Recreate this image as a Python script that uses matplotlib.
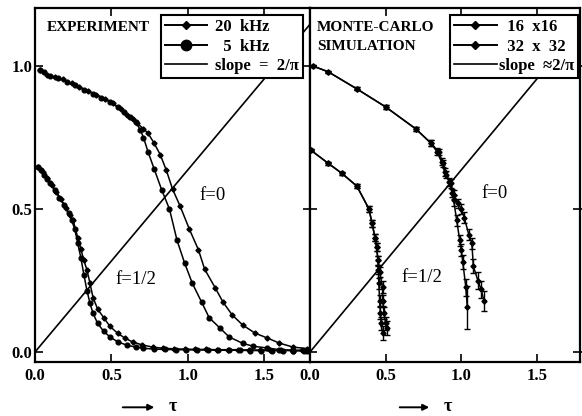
import matplotlib
matplotlib.use('Agg')
import matplotlib.pyplot as plt
from matplotlib.lines import Line2D
from matplotlib.font_manager import FontProperties
import numpy as np

plt.rcParams['font.family'] = ['Liberation Serif', 'DejaVu Serif']

# ---------------- data: experiment ----------------
exp20_f0_tau = [0.03, 0.08, 0.13, 0.18, 0.24, 0.29, 0.35, 0.40, 0.46, 0.51, 0.56, 0.60,
                0.64, 0.67, 0.71, 0.74, 0.78, 0.82, 0.86, 0.90, 0.95, 1.01, 1.07, 1.11,
                1.18, 1.23, 1.29, 1.36, 1.44, 1.52, 1.60, 1.69, 1.78]
exp20_f0_val = [0.985, 0.970, 0.962, 0.955, 0.940, 0.927, 0.912, 0.900, 0.885, 0.870, 0.850, 0.830,
                0.815, 0.800, 0.780, 0.765, 0.730, 0.690, 0.635, 0.570, 0.510, 0.430, 0.357, 0.290,
                0.224, 0.175, 0.130, 0.094, 0.066, 0.049, 0.031, 0.017, 0.012]

exp5_f0_tau = [0.03, 0.06, 0.10, 0.15, 0.21, 0.26, 0.32, 0.38, 0.43, 0.49, 0.54, 0.58,
               0.62, 0.66, 0.69, 0.71, 0.74, 0.78, 0.83, 0.88, 0.93, 0.98, 1.03, 1.09,
               1.14, 1.21, 1.27, 1.36, 1.43, 1.52, 1.60, 1.69, 1.78]
exp5_f0_val = [0.985, 0.978, 0.966, 0.958, 0.945, 0.932, 0.917, 0.903, 0.890, 0.875, 0.857, 0.840,
               0.823, 0.805, 0.776, 0.750, 0.700, 0.640, 0.566, 0.500, 0.390, 0.310, 0.240, 0.175,
               0.120, 0.084, 0.053, 0.030, 0.020, 0.014, 0.008, 0.005, 0.003]

exp5_f12_tau = [0.02, 0.04, 0.06, 0.08, 0.10, 0.13, 0.16, 0.19, 0.22, 0.24, 0.26, 0.28,
                0.30, 0.32, 0.34, 0.36, 0.38, 0.41, 0.45, 0.49, 0.54, 0.60, 0.66, 0.71,
                0.78, 0.85, 0.92, 0.99, 1.06, 1.13, 1.20, 1.27, 1.34, 1.41, 1.48, 1.55,
                1.62, 1.69, 1.76]
exp5_f12_val = [0.647, 0.635, 0.620, 0.605, 0.590, 0.565, 0.540, 0.515, 0.486, 0.460, 0.430, 0.380,
                0.330, 0.270, 0.215, 0.170, 0.135, 0.100, 0.072, 0.053, 0.036, 0.024, 0.017, 0.013,
                0.010, 0.009, 0.008, 0.008, 0.007, 0.007, 0.006, 0.006, 0.006, 0.005, 0.005, 0.005,
                0.005, 0.005, 0.005]

exp20_f12_tau = [0.02, 0.05, 0.08, 0.11, 0.14, 0.17, 0.20, 0.23, 0.25, 0.28, 0.30, 0.32,
                 0.34, 0.36, 0.38, 0.41, 0.45, 0.49, 0.54, 0.59, 0.64, 0.70, 0.77, 0.84,
                 0.91, 0.98, 1.05, 1.12, 1.19, 1.26, 1.33, 1.40, 1.47, 1.54, 1.61, 1.68,
                 1.75]
exp20_f12_val = [0.647, 0.628, 0.610, 0.585, 0.560, 0.535, 0.505, 0.478, 0.460, 0.400, 0.360, 0.320,
                 0.287, 0.240, 0.190, 0.150, 0.120, 0.090, 0.066, 0.048, 0.035, 0.025, 0.017, 0.013,
                 0.011, 0.010, 0.009, 0.009, 0.008, 0.008, 0.008, 0.007, 0.007, 0.007, 0.007, 0.006,
                 0.006]

# ---------------- data: Monte-Carlo ----------------
mc16_f0_tau = [0.02, 0.12, 0.31, 0.50, 0.70, 0.80, 0.85, 0.88, 0.90, 0.93, 0.95, 0.98,
               1.00, 1.02, 1.05, 1.07, 1.08, 1.11, 1.13, 1.15]
mc16_f0_val = [1.00, 0.98, 0.92, 0.857, 0.78, 0.73, 0.70, 0.66, 0.62, 0.59, 0.55, 0.52,
               0.50, 0.47, 0.41, 0.38, 0.30, 0.25, 0.22, 0.18]
mc16_f0_err = [0.004, 0.004, 0.005, 0.006, 0.008, 0.01, 0.01, 0.012, 0.012, 0.015, 0.015, 0.015,
               0.018, 0.018, 0.02, 0.02, 0.025, 0.03, 0.03, 0.035]

mc32_f0_tau = [0.02, 0.12, 0.31, 0.50, 0.70, 0.80, 0.84, 0.87, 0.89, 0.92, 0.94, 0.95,
               0.97, 0.99, 1.00, 1.01, 1.03, 1.04]
mc32_f0_val = [1.00, 0.98, 0.92, 0.857, 0.78, 0.73, 0.70, 0.665, 0.63, 0.594, 0.556, 0.53,
               0.46, 0.39, 0.357, 0.315, 0.227, 0.157]
mc32_f0_err = [0.004, 0.004, 0.005, 0.006, 0.008, 0.01, 0.012, 0.012, 0.015, 0.015, 0.015, 0.018,
               0.018, 0.02, 0.02, 0.025, 0.03, 0.075]

mc16_f12_tau = [0.005, 0.12, 0.21, 0.31, 0.39, 0.41, 0.43, 0.44, 0.45, 0.46, 0.48, 0.48,
                0.49, 0.50, 0.51]
mc16_f12_val = [0.706, 0.66, 0.625, 0.58, 0.50, 0.45, 0.40, 0.367, 0.32, 0.28, 0.227, 0.18,
                0.136, 0.10, 0.084]
mc16_f12_err = [0.004, 0.005, 0.006, 0.008, 0.01, 0.012, 0.012, 0.015, 0.015, 0.018, 0.02, 0.02,
                0.02, 0.022, 0.025]

mc32_f12_tau = [0.005, 0.12, 0.21, 0.31, 0.39, 0.41, 0.43, 0.44, 0.45, 0.452, 0.455, 0.46,
                0.465, 0.47, 0.48]
mc32_f12_val = [0.706, 0.66, 0.625, 0.58, 0.50, 0.45, 0.40, 0.367, 0.32, 0.287, 0.24, 0.18,
                0.136, 0.10, 0.066]
mc32_f12_err = [0.004, 0.005, 0.006, 0.008, 0.01, 0.012, 0.012, 0.015, 0.015, 0.015, 0.018, 0.02,
                0.02, 0.022, 0.025]

slope = 2 / np.pi
slope_tau = np.array([0.0, 1.8])

xticks = [0.0, 0.5, 1.0, 1.5]
xtick_labels = ['0.0', '0.5', '1.0', '1.5']
yticks = [0.0, 0.5, 1.0]
ytick_labels = ['0.0', '0.5', '1.0']

# ---------------- figure ----------------
W, H = 582, 416
fig = plt.figure(figsize=(W / 100, H / 100), dpi=100)
axL = fig.add_axes([35 / W, 1 - 362 / H, 275 / W, 354 / H])
axR = fig.add_axes([310 / W, 1 - 362 / H, 270 / W, 354 / H])

lw = 1.1
tickfont = dict(family='Liberation Serif', weight='bold', size=12)

for ax, xmax in ((axL, 1.8), (axR, 1.785)):
    ax.set_xlim(0, xmax)
    ax.set_ylim(-0.035, 1.203)
    for s in ax.spines.values():
        s.set_linewidth(1.6)
    ax.set_xticks(xticks)
    ax.set_xticklabels(xtick_labels, fontdict=tickfont)
    ax.set_yticks(yticks)
    ax.tick_params(axis='x', direction='in', length=6, width=1.2, top=True, pad=4)
    ax.plot(slope_tau, slope * slope_tau, color='black', lw=1.2, zorder=2)

axL.set_yticklabels(ytick_labels, fontdict=tickfont)
axL.tick_params(axis='y', direction='in', length=6, width=1.2, left=True, right=False, pad=2)
axR.set_yticklabels([])
axR.tick_params(axis='y', direction='inout', length=10, width=1.2, left=True, right=True)

# experiment curves
axL.plot(exp20_f0_tau, exp20_f0_val, color='black', lw=lw, marker='D', ms=2.6, zorder=3)
axL.plot(exp5_f0_tau, exp5_f0_val, color='black', lw=lw, marker='o', ms=3.4, zorder=3)
axL.plot(exp20_f12_tau, exp20_f12_val, color='black', lw=lw, marker='D', ms=2.6, zorder=3)
axL.plot(exp5_f12_tau, exp5_f12_val, color='black', lw=lw, marker='o', ms=3.4, zorder=3)

# Monte-Carlo curves
ekw = dict(color='black', lw=lw, marker='D', ms=2.6, elinewidth=1.0, capsize=2.2, capthick=1.0, zorder=3)
axR.errorbar(mc16_f0_tau, mc16_f0_val, yerr=mc16_f0_err, **ekw)
axR.errorbar(mc32_f0_tau, mc32_f0_val, yerr=mc32_f0_err, **ekw)
axR.errorbar(mc16_f12_tau, mc16_f12_val, yerr=mc16_f12_err, **ekw)
axR.errorbar(mc32_f12_tau, mc32_f12_val, yerr=mc32_f12_err, **ekw)

# texts
txt = dict(family='Liberation Serif', size=13.5, color='black')
axL.text(1.16, 0.549, 'f=0', ha='center', va='center', **txt)
axL.text(0.66, 0.252, 'f=1/2', ha='center', va='center', **txt)
axR.text(1.22, 0.556, 'f=0', ha='center', va='center', **txt)
axR.text(0.74, 0.26, 'f=1/2', ha='center', va='center', **txt)

axL.text(0.044, 0.944, 'EXPERIMENT', transform=axL.transAxes, ha='left', va='center',
         family='Liberation Serif', weight='bold', size=11)
axR.text(0.026, 0.944, 'MONTE-CARLO', transform=axR.transAxes, ha='left', va='center',
         family='Liberation Serif', weight='bold', size=11)
axR.text(0.026, 0.890, 'SIMULATION', transform=axR.transAxes, ha='left', va='center',
         family='Liberation Serif', weight='bold', size=11)

# legends
legfont = FontProperties(family=['Liberation Serif', 'DejaVu Serif'], weight='bold', size=12)
hL = [Line2D([], [], color='black', lw=1.4, marker='D', ms=4.5),
      Line2D([], [], color='black', lw=1.4, marker='o', ms=7.5),
      Line2D([], [], color='black', lw=1.2)]
legL = axL.legend(hL, ['20  kHz', '  5  kHz', 'slope  =  2/\u03c0'], loc='upper right',
                  bbox_to_anchor=(0.975, 0.980), prop=legfont, frameon=True, fancybox=False,
                  handlelength=2.5, handletextpad=0.5, borderpad=0.25, labelspacing=0.2,
                  borderaxespad=0, numpoints=1, framealpha=1)
legL.get_frame().set_edgecolor('black')
legL.get_frame().set_linewidth(1.5)
legL.set_zorder(10)

hR = [Line2D([], [], color='black', lw=1.4, marker='D', ms=4.5),
      Line2D([], [], color='black', lw=1.4, marker='D', ms=4.5),
      Line2D([], [], color='black', lw=1.2)]
legR = axR.legend(hR, ['  16  x16', '  32  x  32', 'slope  \u22482/\u03c0'], loc='upper right',
                  bbox_to_anchor=(0.993, 0.980), prop=legfont, frameon=True, fancybox=False,
                  handlelength=2.6, handletextpad=0.1, borderpad=0.25, labelspacing=0.2,
                  borderaxespad=0, numpoints=1, framealpha=1)
legR.get_frame().set_edgecolor('black')
legR.get_frame().set_linewidth(1.5)
legR.set_zorder(10)

# x labels: arrow + tau
for ax, x0, x1, xt in ((axL, 0.309, 0.444, 0.50), (axR, 0.322, 0.452, 0.51)):
    ax.annotate('', xy=(x1, -0.128), xytext=(x0, -0.128), xycoords='axes fraction',
                arrowprops=dict(arrowstyle='-|>', lw=1.4, color='black', mutation_scale=9),
                annotation_clip=False)
    ax.text(xt, -0.125, '\u03c4', transform=ax.transAxes, ha='center', va='center',
            family='Liberation Serif', weight='bold', size=13)

fig.savefig('out.png', dpi=100)
